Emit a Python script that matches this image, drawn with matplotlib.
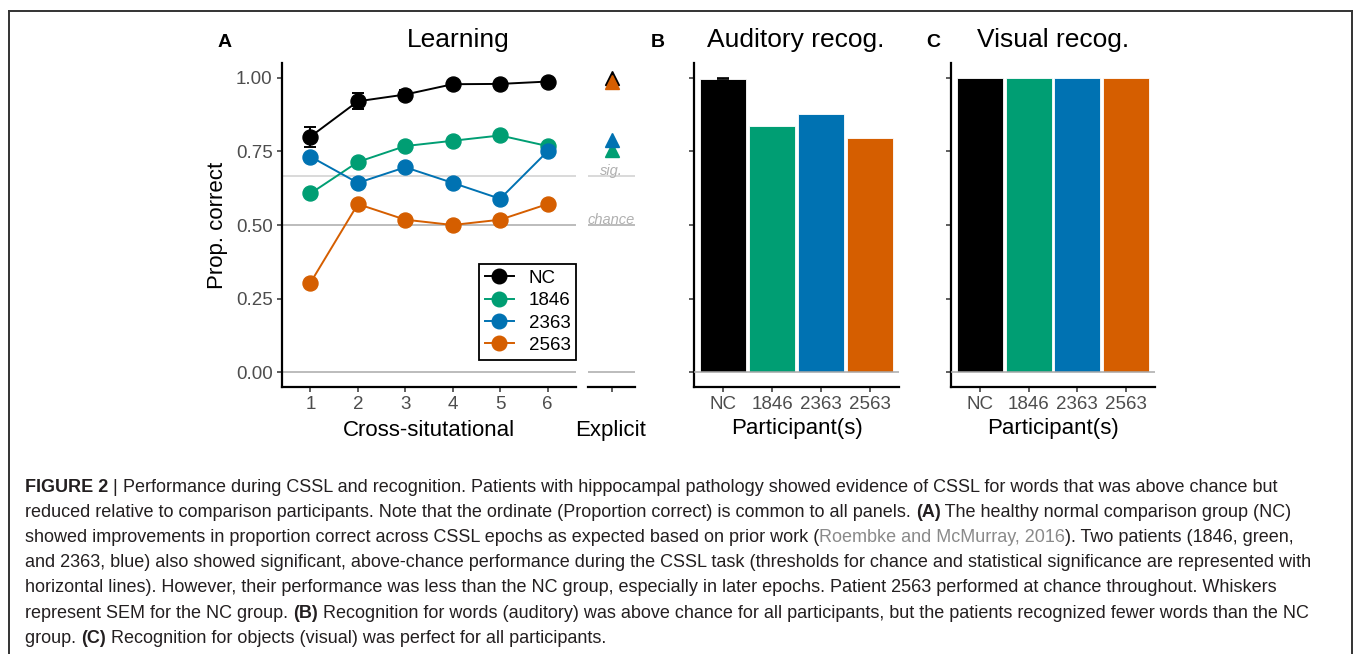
import matplotlib
matplotlib.use('Agg')
import matplotlib.pyplot as plt
from matplotlib.lines import Line2D

W, H = 1355, 654

# ── Data ──
epochs = [1, 2, 3, 4, 5, 6]
groups = ['NC', '1846', '2363', '2563']
group_colors = ['#000000', '#009E73', '#0072B2', '#D55E00']

nc_learn = [0.800, 0.920, 0.943, 0.978, 0.979, 0.987]
nc_learn_sem = [0.034, 0.027, 0.017, 0.005, 0.004, 0.004]
p1846_learn = [0.607, 0.714, 0.768, 0.786, 0.804, 0.768]
p2363_learn = [0.732, 0.643, 0.696, 0.643, 0.589, 0.750]
p2563_learn = [0.304, 0.571, 0.518, 0.500, 0.518, 0.571]

explicit = [1.00, 0.754, 0.790, 0.986]      # NC, 1846, 2363, 2563
auditory = [0.997, 0.836, 0.877, 0.795]
auditory_nc_sem = 0.003
visual = [1.0, 1.0, 1.0, 1.0]

chance_level = 0.5
sig_level = 0.667
y_ticks = [0.0, 0.25, 0.50, 0.75, 1.00]
y_ticklabels = ['0.00', '0.25', '0.50', '0.75', '1.00']

caption = [
    [('FIGURE 2', 'b'), (' | ', 'n'),
     ('Performance during CSSL and recognition. Patients with hippocampal pathology showed evidence of CSSL for words that was above chance but', 'n')],
    [('reduced relative to comparison participants. Note that the ordinate (Proportion correct) is common to all panels. ', 'n'),
     ('(A)', 'b'), (' The healthy normal comparison group (NC)', 'n')],
    [('showed improvements in proportion correct across CSSL epochs as expected based on prior work (', 'n'),
     ('Roembke and McMurray, 2016', 'g'), ('). Two patients (1846, green,', 'n')],
    [('and 2363, blue) also showed significant, above-chance performance during the CSSL task (thresholds for chance and statistical significance are represented with', 'n')],
    [('horizontal lines). However, their performance was less than the NC group, especially in later epochs. Patient 2563 performed at chance throughout. Whiskers', 'n')],
    [('represent SEM for the NC group. ', 'n'), ('(B)', 'b'),
     (' Recognition for words (auditory) was above chance for all participants, but the patients recognized fewer words than the NC', 'n')],
    [('group. ', 'n'), ('(C)', 'b'), (' Recognition for objects (visual) was perfect for all participants.', 'n')],
]

plt.rcParams['font.family'] = ['Liberation Sans', 'DejaVu Sans']

fig = plt.figure(figsize=(W / 100, H / 100), dpi=100)
fig.patch.set_facecolor('white')


def px_axes(left, top, right, bottom):
    return fig.add_axes([left / W, 1 - bottom / H, (right - left) / W, (bottom - top) / H])


def fx(px):
    return px / W


def fy(py):
    return 1 - py / H


def style_axes(ax, left_spine=True):
    for s in ['top', 'right']:
        ax.spines[s].set_visible(False)
    ax.spines['bottom'].set_linewidth(1.6)
    ax.spines['left'].set_linewidth(1.6)
    if not left_spine:
        ax.spines['left'].set_visible(False)
        ax.tick_params(axis='y', left=False, labelleft=False)
    ax.tick_params(direction='out', length=3.8, width=1.1, color='#333333',
                   labelcolor='#4d4d4d', labelsize=13.5, pad=3)
    ax.set_ylim(-0.05, 1.05)
    ax.set_yticks(y_ticks)
    ax.patch.set_alpha(0)


LIGHT = '#a9a9a9'
LIGHTER = '#d0d0d0'

# ── Panel A: learning ──
axA = px_axes(282, 63, 576, 387)
style_axes(axA)
axA.set_yticklabels(y_ticklabels)
axA.set_xlim(0.4, 6.6)
axA.set_xticks(epochs)
for yv, c in [(0, LIGHT), (chance_level, LIGHT), (sig_level, LIGHTER)]:
    axA.axhline(yv, color=c, lw=1.1, zorder=1)

learn = [nc_learn, p1846_learn, p2363_learn, p2563_learn]
for vals, col in zip(learn, group_colors):
    axA.plot(epochs, vals, '-o', color=col, ms=10.8, lw=1.4, zorder=3)
axA.errorbar(epochs, nc_learn, yerr=nc_learn_sem, fmt='none', ecolor='black',
             elinewidth=1.4, capsize=4.5, capthick=1.4, zorder=4)

handles = [Line2D([0], [0], color=c, marker='o', ms=10.5, lw=1.4) for c in group_colors]
leg = axA.legend(handles, groups, loc='upper left', bbox_to_anchor=(fx(479), fy(264)),
                 bbox_transform=fig.transFigure, fontsize=13.5, frameon=True,
                 fancybox=False, edgecolor='black', framealpha=1, handlelength=1.55,
                 handletextpad=0.8, labelspacing=0.28, borderpad=0.3, borderaxespad=0)
leg.get_frame().set_linewidth(1.3)

# explicit sub-panel
axE = px_axes(588, 63, 635, 387)
style_axes(axE, left_spine=False)
axE.set_xlim(0.4, 1.6)
axE.set_xticks([1])
axE.set_xticklabels([''])
for yv, c in [(0, LIGHT), (chance_level, LIGHT), (sig_level, LIGHTER)]:
    axE.axhline(yv, color=c, lw=1.1, zorder=1)
for val, col in zip(explicit, group_colors):
    axE.plot([1], [val], '^', color=col, ms=9.5, zorder=3)
axE.text(1, sig_level + 0.004, 'sig.', ha='center', va='baseline', style='italic',
         color='#b0b0b0', fontsize=10.5)
axE.text(1, chance_level + 0.004, 'chance', ha='center', va='baseline', style='italic',
         color='#b0b0b0', fontsize=10.5)

# ── Panel B: auditory recognition ──
xpos = [1, 2, 3, 4]
axB = px_axes(694, 63, 899, 387)
style_axes(axB)
axB.set_yticklabels([])
axB.set_xlim(0.4, 4.6)
axB.bar(xpos, auditory, width=0.95, color=group_colors, edgecolor='white', lw=0.6, zorder=2)
axB.errorbar([1], [auditory[0]], yerr=[auditory_nc_sem], fmt='none', ecolor='black',
             elinewidth=1.2, capsize=4, capthick=1.2, zorder=3)
axB.axhline(0, color=LIGHT, lw=1.1, zorder=4)
axB.set_xticks(xpos)
axB.set_xticklabels(groups)

# ── Panel C: visual recognition ──
axC = px_axes(951, 63, 1155, 387)
style_axes(axC)
axC.set_yticklabels([])
axC.set_xlim(0.4, 4.6)
axC.bar(xpos, visual, width=0.95, color=group_colors, edgecolor='white', lw=0.6, zorder=2)
axC.axhline(0, color=LIGHT, lw=1.1, zorder=4)
axC.set_xticks(xpos)
axC.set_xticklabels(groups)

# ── titles and axis labels ──
fig.text(fx(218), fy(47), 'A', fontsize=14, fontweight='bold', va='baseline')
fig.text(fx(458), fy(47), 'Learning', fontsize=19, ha='center', va='baseline')
fig.text(fx(651), fy(47), 'B', fontsize=14, fontweight='bold', va='baseline')
fig.text(fx(796), fy(47), 'Auditory recog.', fontsize=19, ha='center', va='baseline')
fig.text(fx(926), fy(47), 'C', fontsize=14, fontweight='bold', va='baseline')
fig.text(fx(1053), fy(47), 'Visual recog.', fontsize=19, ha='center', va='baseline')

fig.text(fx(217), fy(225), 'Prop. correct', fontsize=16, rotation=90, ha='center', va='center')
fig.text(fx(429), fy(436), 'Cross-situtational', fontsize=16, ha='center', va='baseline')
fig.text(fx(611), fy(436), 'Explicit', fontsize=16, ha='center', va='baseline')
fig.text(fx(797), fy(434), 'Participant(s)', fontsize=16, ha='center', va='baseline')
fig.text(fx(1053), fy(434), 'Participant(s)', fontsize=16, ha='center', va='baseline')

# ── outer frame ──
for xs, ys in [([9, 1352], [11, 11]), ([9, 9], [11, 660]), ([1352, 1352], [11, 660])]:
    fig.add_artist(Line2D([fx(x) for x in xs], [fy(y) for y in ys], color='#333333',
                          lw=1.4, transform=fig.transFigure))

# ── caption, drawn segment by segment ──
renderer = fig.canvas.get_renderer()


def seg_width(s, size, weight):
    t1 = fig.text(0, 0, s + '|', fontsize=size, fontweight=weight)
    t2 = fig.text(0, 0, '|', fontsize=size, fontweight=weight)
    w = t1.get_window_extent(renderer).width - t2.get_window_extent(renderer).width
    t1.remove()
    t2.remove()
    return w


base_size = 11.5
full4 = caption[3][0][0]
cap_size = base_size * 1286 / seg_width(full4, base_size, 'normal')

styles = {'n': ('normal', '#231f20'), 'b': ('bold', '#231f20'), 'g': ('normal', '#8a8a8a')}
for i, line in enumerate(caption):
    x = 25
    y = 491.7 + 25.2 * i
    for s, kind in line:
        weight, col = styles[kind]
        fig.text(fx(x), fy(y), s, fontsize=cap_size, fontweight=weight, color=col,
                 va='baseline', ha='left')
        x += seg_width(s, cap_size, weight)

fig.savefig('out.png', dpi=100, facecolor='white')
